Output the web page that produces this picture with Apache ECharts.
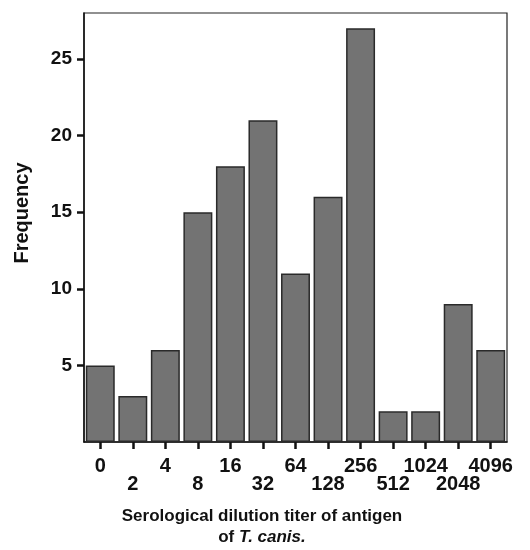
<!DOCTYPE html>
<html>
<head>
<meta charset="utf-8">
<script src="https://cdn.jsdelivr.net/npm/echarts@6/dist/echarts.min.js"></script>
<style>
  html, body { margin: 0; padding: 0; background: #fff; }
  #chart { width: 530px; height: 550px; }
</style>
</head>
<body>
<div id="chart"></div>
<script>
// titer categories and how many sera fell in each
const titers = ['0', '2', '4', '8', '16', '32', '64', '128', '256', '512', '1024', '2048', '4096'];
const frequency = [5, 3, 6, 15, 18, 21, 11, 16, 27, 2, 2, 9, 6];
const yTicks = [5, 10, 15, 20, 25];

const font = "'Liberation Sans', Arial, Helvetica, sans-serif";

const chart = echarts.init(document.getElementById('chart'));
chart.setOption({
  animation: false,
  backgroundColor: '#fff',
  grid: {
    left: 84, top: 13, right: 23, bottom: 108,
    show: true, borderColor: '#222', borderWidth: 1.2
  },
  xAxis: {
    type: 'category',
    data: titers,
    axisLine: { show: true, lineStyle: { color: '#111', width: 1.5 } },
    axisTick: { show: true, alignWithLabel: true, length: 7, lineStyle: { color: '#111', width: 2.5 } },
    axisLabel: {
      interval: 0,
      margin: 15,
      color: '#111',
      fontFamily: font,
      fontWeight: 'bold',
      fontSize: 20,
      lineHeight: 18,
      // alternate rows so the long labels don't collide
      formatter: (v, i) => (i % 2 ? '\n' + v : v)
    }
  },
  yAxis: {
    type: 'value',
    min: 0,
    max: 28,
    interval: 5,
    splitLine: { show: false },
    axisLine: { show: true, lineStyle: { color: '#111', width: 1.5 } },
    axisTick: { show: true, customValues: yTicks, length: 7, lineStyle: { color: '#111', width: 2.5 } },
    axisLabel: {
      show: true,
      customValues: yTicks,
      margin: 12,
      color: '#111',
      fontFamily: font,
      fontWeight: 'bold',
      fontSize: 19
    }
  },
  series: [{
    type: 'bar',
    data: frequency,
    barCategoryGap: '11%',
    itemStyle: { color: '#737373', borderColor: '#2a2a2a', borderWidth: 1.5 }
  }],
  graphic: [
    {
      type: 'text',
      x: 22, y: 213,
      rotation: Math.PI / 2,
      style: {
        text: 'Frequency',
        fill: '#111',
        font: 'bold 20px ' + font,
        textAlign: 'center',
        textVerticalAlign: 'middle'
      }
    },
    {
      type: 'text',
      x: 262, y: 527,
      style: {
        text: '{b|Serological dilution titer of antigen}\n{b|of }{i|T. canis.}',
        textAlign: 'center',
        textVerticalAlign: 'middle',
        rich: {
          b: { fontFamily: font, fontWeight: 'bold', fontSize: 17, lineHeight: 21, fill: '#111' },
          i: { fontFamily: font, fontWeight: 'bold', fontStyle: 'italic', fontSize: 17, lineHeight: 21, fill: '#111' }
        }
      }
    }
  ]
});
</script>
</body>
</html>
